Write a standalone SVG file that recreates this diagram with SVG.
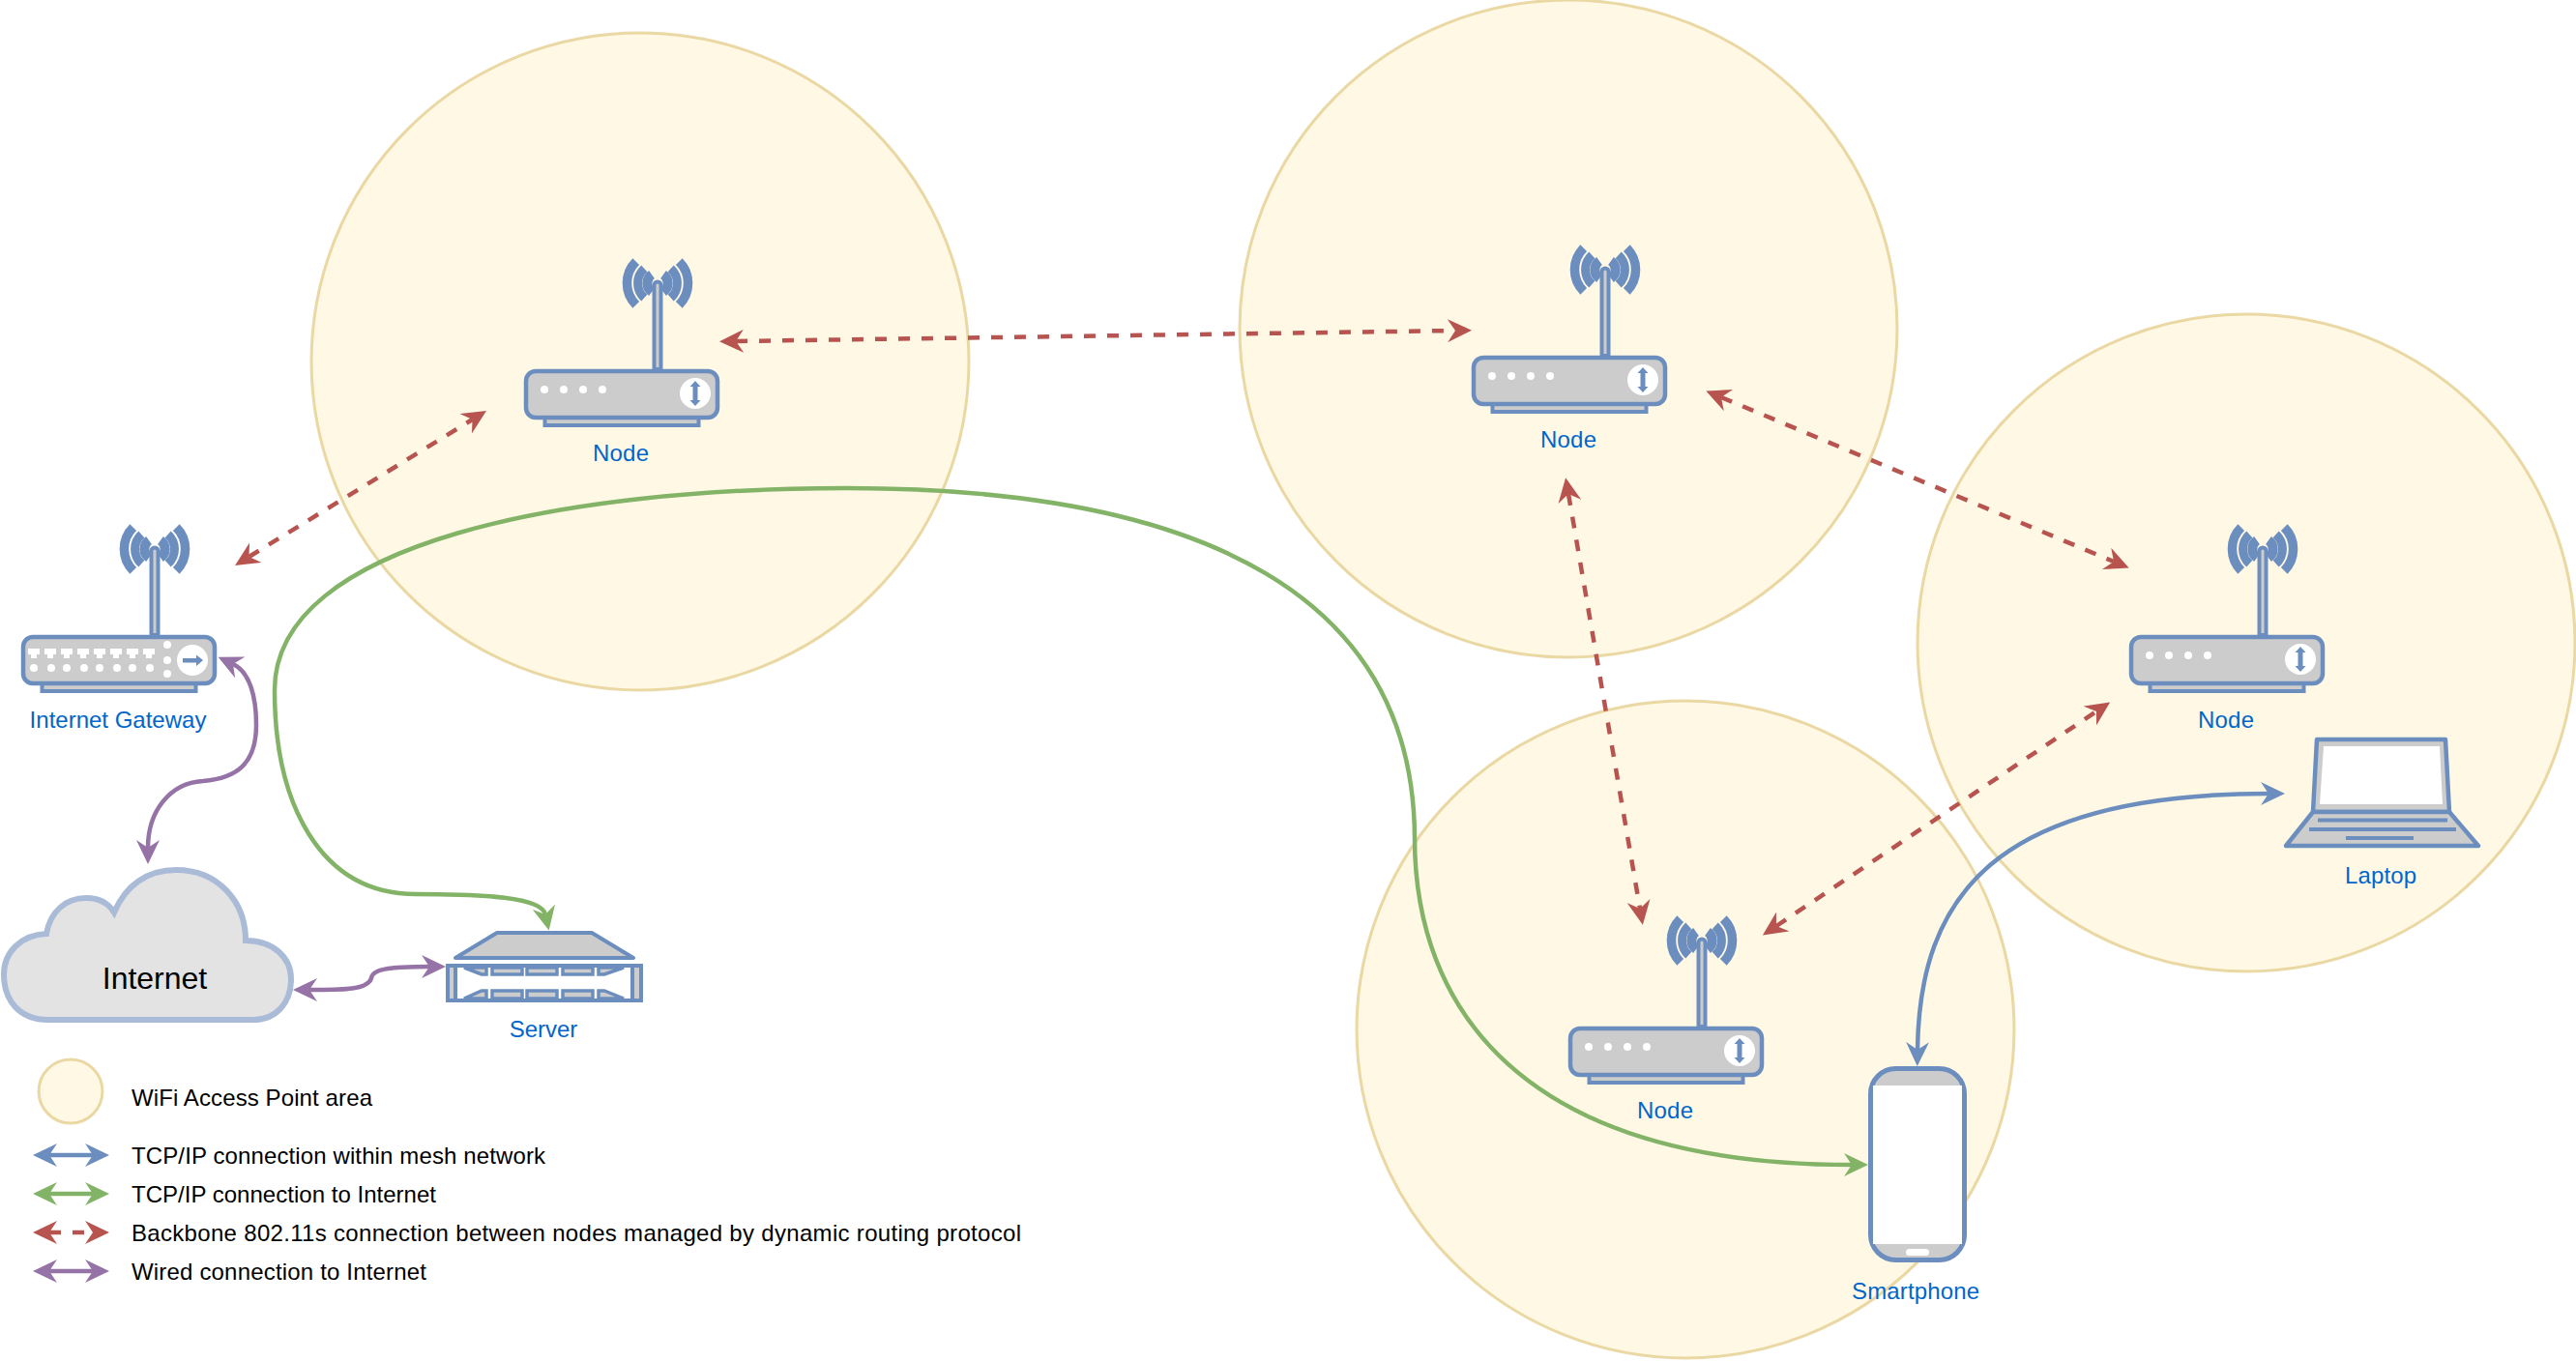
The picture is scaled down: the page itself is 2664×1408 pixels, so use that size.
<svg xmlns="http://www.w3.org/2000/svg" width="2664" height="1408" viewBox="0 0 2664 1408">
<style>
text{font-family:"Liberation Sans",Arial,sans-serif;font-size:24px}
.lbl{fill:#0066cc;text-anchor:middle}
.leg{fill:#000}
.area{fill:#fff2cc;fill-opacity:.5;stroke:#d6b656;stroke-opacity:.5;stroke-width:3}
.dev{fill:#ccc;stroke:#6c8ebf;stroke-width:4.500;stroke-linejoin:round}
.thin{fill:#ccc;stroke:#6c8ebf;stroke-width:4}
.slat{fill:#ccc;stroke:#6c8ebf;stroke-width:3.500}
.wave{fill:none;stroke:#6c8ebf}
.w{fill:#fff;stroke:none}
.b{fill:#6c8ebf;stroke:none}
.con{fill:none;stroke-width:4.500}
.red{stroke:#b85450;stroke-dasharray:12 12;marker-start:url(#mr);marker-end:url(#mr)}
.grn{stroke:#82b366;marker-start:url(#mg);marker-end:url(#mg)}
.blu{stroke:#6c8ebf;marker-start:url(#mb);marker-end:url(#mb)}
.pur{stroke:#9673a6;marker-start:url(#mp);marker-end:url(#mp)}
</style>
<defs>
<marker id="mr" viewBox="0 0 25 24" refX="8" refY="12" markerWidth="25" markerHeight="24" markerUnits="userSpaceOnUse" orient="auto-start-reverse"><path d="M25 12L0 0L8 12L0 24Z" fill="#b85450"/></marker>
<marker id="mg" viewBox="0 0 25 24" refX="8" refY="12" markerWidth="25" markerHeight="24" markerUnits="userSpaceOnUse" orient="auto-start-reverse"><path d="M25 12L0 0L8 12L0 24Z" fill="#82b366"/></marker>
<marker id="mb" viewBox="0 0 25 24" refX="8" refY="12" markerWidth="25" markerHeight="24" markerUnits="userSpaceOnUse" orient="auto-start-reverse"><path d="M25 12L0 0L8 12L0 24Z" fill="#6c8ebf"/></marker>
<marker id="mp" viewBox="0 0 25 24" refX="8" refY="12" markerWidth="25" markerHeight="24" markerUnits="userSpaceOnUse" orient="auto-start-reverse"><path d="M25 12L0 0L8 12L0 24Z" fill="#9673a6"/></marker>
<g id="ant">
<path class="wave" stroke-width="9.500" d="M657.700 270.700A31.500 31.500 0 0 0 657.700 315.300M702.300 270.700A31.500 31.500 0 0 1 702.300 315.300"/>
<path class="wave" stroke-width="9" d="M666.300 277.800A20.500 20.500 0 0 0 666.300 308.200M693.700 277.800A20.500 20.500 0 0 1 693.700 308.200"/>
<path class="wave" stroke-width="10" d="M674 284A11 11 0 0 0 674 302M686 284A11 11 0 0 1 686 302"/>
<path class="thin" d="M676.500 382V295A3.500 3.500 0 0 1 683.500 295V382Z"/>
</g>
<g id="router">
<use href="#ant"/>
<rect class="thin" x="563.500" y="430" width="159" height="10"/>
<rect class="dev" x="544" y="384" width="198" height="48" rx="10"/>
<circle class="w" cx="563" cy="403" r="4"/><circle class="w" cx="583" cy="403" r="4"/><circle class="w" cx="603" cy="403" r="4"/><circle class="w" cx="623" cy="403" r="4"/>
<circle class="w" cx="719" cy="407" r="16"/>
<path class="b" d="M719 394L724.500 400H721.500V414H724.500L719 420L713.500 414H716.500V400H713.500Z"/>
</g>
</defs>

<g id="areas">
<circle class="area" cx="662" cy="374" r="340"/>
<circle class="area" cx="1622" cy="340" r="340"/>
<circle class="area" cx="2323" cy="665" r="340"/>
<circle class="area" cx="1743" cy="1065" r="340"/>
</g>

<g id="connectors">
<path class="con red" d="M761 353L1505 342"/>
<path class="con red" d="M257.500 576L488.500 434"/>
<path class="con red" d="M1780 411L2186 581"/>
<path class="con red" d="M1622 511L1696 940"/>
<path class="con red" d="M1837 958L2168 736"/>
<path class="con grn" d="M564 946C560 928 500 925 430 925C330 925 284 830 284 714C284 560 590 505 875 505C1250 505 1462 620 1463 867C1463 1040 1570 1205 1915 1205"/>
<path class="con blu" d="M1983 1086C1985 930 2060 821 2346 821"/>
<path class="con pur" d="M241 687C258 695 265 720 265 750C265 790 245 805 210 808C175 810 153 840 153 877"/>
<path class="con pur" d="M320 1024C350 1024 380 1025 384 1012C385 1003 400 1000 444 1000"/>
</g>

<g id="node1"><use href="#router"/><text class="lbl" x="642" y="477" textLength="58">Node</text></g>
<g id="node2" transform="translate(980 -14)"><use href="#router"/><text class="lbl" x="642" y="477" textLength="58">Node</text></g>
<g id="node3" transform="translate(1660 275)"><use href="#router"/><text class="lbl" x="642" y="478" textLength="58">Node</text></g>
<g id="node4" transform="translate(1080 680)"><use href="#router"/><text class="lbl" x="642" y="477" textLength="58">Node</text></g>

<g id="gateway" transform="translate(-520 275)">
<use href="#ant"/>
<rect class="thin" x="563.500" y="430" width="159" height="10"/>
<rect class="dev" x="544" y="384" width="198" height="48" rx="10"/>
<g transform="translate(520 -275)">
<g class="w">
<path d="M29 671H41V677H38V681H32V677H29ZM46 671H58V677H55V681H49V677H46ZM63 671H75V677H72V681H66V677H63ZM80 671H92V677H89V681H83V677H80ZM97 671H109V677H106V681H100V677H97ZM114 671H126V677H123V681H117V677H114ZM131 671H143V677H140V681H134V677H131ZM148 671H160V677H157V681H151V677H148Z"/>
<circle cx="35" cy="691" r="4"/><circle cx="53" cy="691" r="4"/><circle cx="69" cy="691" r="4"/><circle cx="87" cy="691" r="4"/><circle cx="103" cy="691" r="4"/><circle cx="121" cy="691" r="4"/><circle cx="137" cy="691" r="4"/><circle cx="155" cy="691" r="4"/>
<circle cx="173" cy="667" r="4"/><circle cx="173" cy="683" r="4"/><circle cx="173" cy="697" r="4"/>
<circle cx="199" cy="683" r="16"/>
</g>
<path class="b" d="M189 681H203V677.500L210 683L203 689V685.500H189Z"/>
<text class="lbl" x="122" y="753">Internet Gateway</text>
</g>
</g>

<g id="internet">
<path d="M50 1055C20 1055 4 1035 4 1008C4 985 22 967 48 966C52 943 68 929 89 929C102 929 112 934 118 944C130 916 152 900 182 900C225 900 254 932 254 973C282 973 301 990 301 1013C301 1038 285 1055 262 1055Z" fill="#e3e3e3" stroke="#a9bbd6" stroke-width="6"/>
<text x="160" y="1023" text-anchor="middle" style="font-size:32px">Internet</text>
</g>

<g id="server">
<path class="thin" d="M514 965H612L655 991H471Z" style="stroke-linejoin:round"/>
<path d="M463 999H663V1035H463Z" fill="#ccc"/>
<path class="w" d="M473 1001H652V1033H473Z"/>
<path d="M463 999H663V1035H463ZM471 999V1035M654 999V1035" style="fill:none;stroke:#6c8ebf;stroke-width:4"/>
<path class="slat" d="M480 1001L498 1008H503V1001ZM509 1001V1008H540V1001ZM545 1001V1008H576V1001ZM582 1001V1008H613V1001ZM619 1001V1008H625L645 1001Z"/>
<path class="slat" d="M480 1033L498 1025H503V1033ZM509 1033V1025H540V1033ZM545 1033V1025H576V1033ZM582 1033V1025H613V1033ZM619 1033V1025H625L645 1033Z"/>
<text class="lbl" x="562" y="1073">Server</text>
</g>

<g id="laptop">
<path class="dev" d="M2396 765H2529L2533 840H2392Z"/>
<path class="w" d="M2403 772H2523L2526 832H2399Z"/>
<path class="dev" d="M2392 840H2533L2563 875H2364Z"/>
<path d="M2397 848.500H2531M2388 858H2540M2426 867H2496" style="stroke:#6c8ebf;stroke-width:4;fill:none"/>
<text class="lbl" x="2462" y="914" textLength="74">Laptop</text>
</g>

<g id="smartphone">
<rect class="dev" x="1934.500" y="1105.500" width="97" height="198" rx="26" style="stroke-width:5"/>
<rect class="w" x="1937" y="1123" width="92" height="164"/>
<rect class="w" x="1971" y="1292" width="24" height="7" rx="3.500"/>
<text class="lbl" x="1981" y="1344" textLength="132">Smartphone</text>
</g>

<g id="legend">
<circle class="area" cx="73" cy="1129" r="33"/>
<text class="leg" x="136" y="1144" textLength="249">WiFi Access Point area</text>
<path class="con blu" d="M51 1195H96"/>
<text class="leg" x="136" y="1204" textLength="428">TCP/IP connection within mesh network</text>
<path class="con grn" d="M51 1235H96"/>
<text class="leg" x="136" y="1244" textLength="315">TCP/IP connection to Internet</text>
<path class="con red" d="M51 1275H96"/>
<text class="leg" x="136" y="1284" textLength="920">Backbone 802.11s connection between nodes managed by dynamic routing protocol</text>
<path class="con pur" d="M51 1315H96"/>
<text class="leg" x="136" y="1324" textLength="305">Wired connection to Internet</text>
</g>
</svg>
